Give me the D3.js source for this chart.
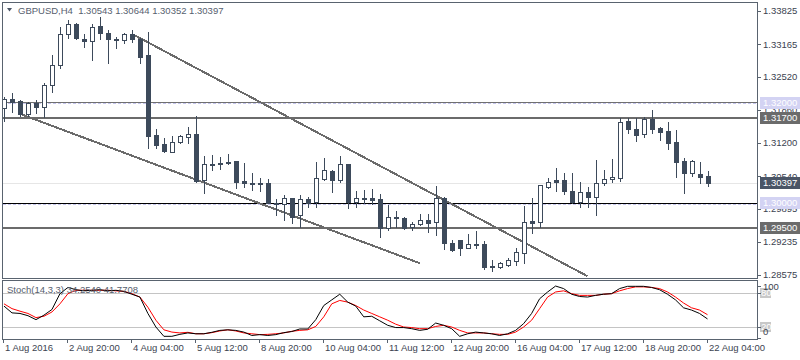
<!DOCTYPE html>
<html lang="en">
<head>
<meta charset="UTF-8" />
<title>GBPUSD,H4</title>
<script src="https://cdnjs.cloudflare.com/ajax/libs/d3/7.8.5/d3.min.js"></script>
<style>
  body { margin: 0; background: #fff; }
  svg { display: block; font-family: "Liberation Sans", Arial, sans-serif; font-size: 9.5px; }
  .frame { fill: none; stroke: #59636f; shape-rendering: crispEdges; }
  .axis-text { fill: #3b4350; }
  .hline { shape-rendering: crispEdges; }
</style>
</head>
<body>
<svg id="chart" width="800" height="360"></svg>
<script>
// GBPUSD H4 candles, 1 Aug - 22 Aug 2016
const open = [1.3190,1.3207,1.3203,1.3178,1.3199,1.3192,1.3235,1.3275,1.3337,1.3357,
  1.3327,1.3323,1.3353,1.3339,1.3327,1.3325,1.3337,1.3327,1.3295,1.3136,
  1.3118,1.3102,1.3122,1.3132,1.3138,1.3046,1.3078,1.3080,1.3082,1.3084,
  1.3044,1.3040,1.3040,1.3040,1.3001,1.2999,1.3011,1.2977,1.3009,1.3003,
  1.3048,1.3064,1.3046,1.3078,1.3003,1.3011,1.3011,1.3009,1.2951,1.2973,
  1.2971,1.2953,1.2959,1.2967,1.2963,1.3011,1.2921,1.2927,1.2911,1.2919,
  1.2919,1.2875,1.2873,1.2877,1.2885,1.2901,1.2965,1.2963,1.3032,1.3046,
  1.3046,1.3024,1.3003,1.3022,1.3013,1.3040,1.3048,1.3050,1.3164,1.3148,
  1.3138,1.3168,1.3150,1.3144,1.3122,1.3084,1.3060,1.3058,1.30543];
const high = [1.3211,1.3219,1.3205,1.3201,1.3205,1.3239,1.3295,1.3351,1.3365,1.3359,
  1.3337,1.3357,1.3371,1.3345,1.3331,1.3339,1.3345,1.3329,1.3341,1.3148,
  1.3130,1.3134,1.3136,1.3152,1.3174,1.3094,1.3096,1.3092,1.3098,1.3084,
  1.3080,1.3060,1.3050,1.3048,1.3009,1.3016,1.3011,1.3016,1.3013,1.3082,
  1.3090,1.3066,1.3094,1.3078,1.3024,1.3026,1.3028,1.3018,1.2997,1.2985,
  1.2973,1.2963,1.2979,1.2979,1.3034,1.3013,1.2927,1.2927,1.2939,1.2945,
  1.2925,1.2887,1.2883,1.2891,1.2911,1.2995,1.3011,1.3036,1.3050,1.3070,
  1.3060,1.3060,1.3042,1.3032,1.3086,1.3066,1.3088,1.3170,1.3170,1.3170,
  1.3172,1.3186,1.3152,1.3162,1.3146,1.3090,1.3086,1.3082,1.30644];
const low = [1.3164,1.3182,1.3174,1.3174,1.3180,1.3172,1.3221,1.3269,1.3329,1.3327,
  1.3311,1.3285,1.3327,1.3279,1.3309,1.3319,1.3321,1.3279,1.3110,1.3110,
  1.3102,1.3102,1.3120,1.3120,1.3042,1.3020,1.3066,1.3068,1.3078,1.3030,
  1.3032,1.3026,1.3024,1.3001,1.2977,1.2967,1.2961,1.2953,1.2993,1.2993,
  1.3046,1.3022,1.3042,1.2991,1.2993,1.3001,1.2999,1.2933,1.2947,1.2953,
  1.2949,1.2947,1.2957,1.2943,1.2937,1.2909,1.2905,1.2897,1.2911,1.2911,
  1.2869,1.2865,1.2871,1.2875,1.2877,1.2881,1.2941,1.2953,1.3030,1.3024,
  1.3018,1.3001,1.2993,1.2993,1.2977,1.3036,1.3042,1.3044,1.3140,1.3124,
  1.3132,1.3140,1.3126,1.3108,1.3052,1.3020,1.3054,1.3040,1.30352];
const close = [1.3207,1.3201,1.3178,1.3199,1.3192,1.3235,1.3275,1.3337,1.3357,1.3329,
  1.3323,1.3351,1.3339,1.3327,1.3325,1.3337,1.3327,1.3291,1.3134,1.3116,
  1.3104,1.3122,1.3134,1.3138,1.3044,1.3078,1.3076,1.3078,1.3080,1.3042,
  1.3040,1.3038,1.3038,1.3001,1.2999,1.3011,1.2973,1.3009,1.3001,1.3050,
  1.3066,1.3046,1.3078,1.3003,1.3011,1.3009,1.3007,1.2951,1.2973,1.2971,
  1.2951,1.2959,1.2967,1.2961,1.3011,1.2921,1.2907,1.2911,1.2919,1.2918,
  1.2873,1.2873,1.2881,1.2887,1.2903,1.2963,1.2961,1.3036,1.3042,1.3042,
  1.3024,1.3003,1.3022,1.3013,1.3040,1.3048,1.3052,1.3162,1.3148,1.3136,
  1.3168,1.3148,1.3142,1.3120,1.3082,1.3060,1.3084,1.3052,1.30397];

// Stochastic(14,3,3): main (black) and signal (red)
const stochK = [57,45,44,40,33,41,51,79,90,86,
  84,85,86,84,85,83,78,73,44,20,
  3.5,3.5,7,9.5,8,8,10.6,14,15,14,
  11,5,6.5,5,6.5,10,12,16.5,16.5,33,
  58,68,78,64,57,38,39,31,23,19,
  19,17,14,16,27,23,17,3.5,8,11,
  9.5,8,5,8,14,26,44,70,82,92.5,
  88,78,74,73,76,78,79,88,92,92,
  92,90,86,78,68,54,50,44,34.254];
const stochD = [61,52.5,48,44,36.6,39,46.6,61,79,85,
  85,85,85,85,84,83,79,73,55,32,
  15,11,9.5,10.6,8,8,10,13,15,13,
  9.5,8,6.5,7,8,9.5,12.4,14,15,21,
  38,61,67,64,58,50,44,38,32,25,
  20,19,17,17,21,23,20,14,9.5,9.5,
  9.5,8,7,7,11,20,32,52.5,73,82,
  84,79,76,76,76,78,79,84,88,91,
  91,90,88,82,73,62.5,54,50,41.7708];

const priceTicks = [1.33825,1.33165,1.32520,1.31860,1.31200,1.30540,1.29895,1.29235,1.28575];
const timeTickIdx = [0,8,16,24,32,40,48,56,64,72,80,88];
const timeTickLabels = ["1 Aug 2016","2 Aug 20:00","4 Aug 04:00","5 Aug 12:00","8 Aug 20:00",
  "10 Aug 04:00","11 Aug 12:00","12 Aug 20:00","16 Aug 04:00","17 Aug 12:00","18 Aug 20:00","22 Aug 04:00"];

// horizontal objects on the chart
const levelPrices = [1.3202, 1.3200, 1.3170, 1.30397, 1.30005, 1.2998, 1.2950];
const levelKinds  = ["gray", "dash", "thick", "bid", "black", "dash", "thick"];
// price labels shown on the right axis
const markPrices = [1.32000, 1.31700, 1.30397, 1.30000, 1.29500];
const markKinds  = ["dash", "thick", "bid", "dash", "thick"];

// trend lines: [startIndex, startPrice, endIndex, endPrice]
const trendA = [2, 1.3178, 52, 1.2881];
const trendB = [16, 1.3337, 73, 1.2855];

const stochLevels = [80, 20];

const W = 800;
const main = {left: 3, right: 757, top: 3, bottom: 278};
const sub = {top: 281, bottom: 339};
const candleColor = "#3d4a5b";
const n = close.length;

const svg = d3.select("#chart");

const x = d3.scaleLinear().domain([0, n - 1]).range([4, 707.5]);
const y = d3.scaleLinear().domain([1.28575, 1.33825]).range([275, 11]);
const ys = d3.scaleLinear().domain([0, 100]).range([338.3, 281.8]);

const defs = svg.append("defs");
defs.append("clipPath").attr("id", "clipMain").append("rect")
  .attr("x", main.left).attr("y", main.top)
  .attr("width", main.right - main.left).attr("height", main.bottom - main.top);
defs.append("clipPath").attr("id", "clipSub").append("rect")
  .attr("x", main.left).attr("y", sub.top)
  .attr("width", main.right - main.left).attr("height", sub.bottom - sub.top);

const pix = v => Math.round(v) + 0.5;

// ---- horizontal lines
const lineStyle = {
  gray:  {stroke: "#707070", width: 1, dash: null},
  dash:  {stroke: "#c6c6ee", width: 1, dash: "3,2"},
  thick: {stroke: "#6b6b6b", width: 2, dash: null},
  bid:   {stroke: "#e6e6e6", width: 1, dash: null},
  black: {stroke: "#000000", width: 1, dash: null}
};
const gMain = svg.append("g").attr("clip-path", "url(#clipMain)");
gMain.selectAll("line.hline")
  .data(levelPrices)
  .join("line")
  .attr("class", "hline")
  .attr("x1", main.left).attr("x2", main.right)
  .attr("y1", (d, i) => levelKinds[i] === "thick" ? Math.round(y(d)) : pix(y(d)))
  .attr("y2", (d, i) => levelKinds[i] === "thick" ? Math.round(y(d)) : pix(y(d)))
  .attr("stroke", (d, i) => lineStyle[levelKinds[i]].stroke)
  .attr("stroke-width", (d, i) => lineStyle[levelKinds[i]].width)
  .attr("stroke-dasharray", (d, i) => lineStyle[levelKinds[i]].dash);

// ---- trend lines
gMain.selectAll("line.trend")
  .data([trendA, trendB])
  .join("line")
  .attr("class", "trend")
  .attr("x1", d => x(d[0])).attr("y1", d => y(d[1]))
  .attr("x2", d => x(d[2])).attr("y2", d => y(d[3]))
  .attr("stroke", "#6b6b6b")
  .attr("stroke-width", 2)
  .attr("shape-rendering", "crispEdges");

// ---- candles
const candles = gMain.selectAll("g.candle")
  .data(d3.range(n))
  .join("g")
  .attr("class", "candle")
  .attr("shape-rendering", "crispEdges");

candles.append("line")
  .attr("x1", i => pix(x(i))).attr("x2", i => pix(x(i)))
  .attr("y1", i => Math.round(y(high[i])))
  .attr("y2", i => Math.round(y(low[i])) + 1)
  .attr("stroke", candleColor);

candles.append("rect")
  .attr("x", i => close[i] >= open[i] ? Math.round(x(i)) - 1.5 : Math.round(x(i)) - 2)
  .attr("width", i => close[i] >= open[i] ? 4 : 5)
  .attr("y", i => {
    const top = Math.round(y(Math.max(open[i], close[i])));
    return close[i] >= open[i] ? top + 0.5 : top;
  })
  .attr("height", i => {
    const top = Math.round(y(Math.max(open[i], close[i])));
    const bot = Math.round(y(Math.min(open[i], close[i])));
    const h = Math.max(bot - top, 1);
    return close[i] >= open[i] ? Math.max(h, 2) : h + 1;
  })
  .attr("fill", i => close[i] >= open[i] ? "#ffffff" : candleColor)
  .attr("stroke", i => close[i] >= open[i] ? candleColor : "none");

// ---- frames
svg.append("rect").attr("class", "frame")
  .attr("x", main.left - 0.5).attr("y", main.top - 0.5)
  .attr("width", main.right - main.left + 1).attr("height", main.bottom - main.top + 1);
svg.append("rect").attr("class", "frame")
  .attr("x", main.left - 0.5).attr("y", sub.top - 0.5)
  .attr("width", main.right - main.left + 1).attr("height", sub.bottom - sub.top + 1);

// ---- price axis
const gAxis = svg.append("g");
gAxis.selectAll("line.ptick")
  .data(priceTicks)
  .join("line")
  .attr("class", "hline")
  .attr("x1", main.right + 0.5).attr("x2", main.right + 4)
  .attr("y1", d => pix(y(d))).attr("y2", d => pix(y(d)))
  .attr("stroke", "#59636f");
gAxis.selectAll("text.ptick")
  .data(priceTicks)
  .join("text")
  .attr("class", "axis-text")
  .attr("x", 763).attr("y", d => y(d))
  .attr("dy", "0.35em")
  .text(d => d3.format(".5f")(d));

// highlighted price labels
const markFill = {dash: "#d3d3f3", thick: "#6b6b6b", bid: "#4a5566"};
const marks = gAxis.selectAll("g.mark")
  .data(markPrices)
  .join("g");
marks.append("rect")
  .attr("x", 760).attr("width", 40)
  .attr("y", d => Math.round(y(d)) - 6).attr("height", 12)
  .attr("fill", (d, i) => markFill[markKinds[i]]);
marks.append("text")
  .attr("x", 763).attr("y", d => Math.round(y(d)))
  .attr("dy", "0.35em")
  .attr("fill", "#ffffff")
  .text(d => d3.format(".5f")(d));

// ---- title
svg.append("path").attr("d", "M7,8 L12,8 L9.5,11.5 Z").attr("fill", "#4a5566");
svg.append("text")
  .attr("x", 18).attr("y", 11).attr("dy", "0.35em")
  .attr("fill", "#56606e")
  .style("white-space", "pre")
  .text("GBPUSD,H4  " + [open[n - 1], high[n - 1], low[n - 1], close[n - 1]].map(d3.format(".5f")).join(" "));

// ---- stochastic window
const gSub = svg.append("g").attr("clip-path", "url(#clipSub)");
gSub.selectAll("line.lvl")
  .data(stochLevels)
  .join("line")
  .attr("class", "hline")
  .attr("x1", main.left).attr("x2", main.right)
  .attr("y1", d => pix(ys(d))).attr("y2", d => pix(ys(d)))
  .attr("stroke", "#c4c4c4");

const stochLine = d3.line().x((d, i) => x(i)).y(d => ys(d));
gSub.append("path").datum(stochD)
  .attr("d", stochLine).attr("fill", "none")
  .attr("stroke", "#ff0000").attr("stroke-width", 1);
gSub.append("path").datum(stochK)
  .attr("d", stochLine).attr("fill", "none")
  .attr("stroke", "#000000").attr("stroke-width", 1);

svg.append("text")
  .attr("x", 7).attr("y", 290).attr("dy", "0.35em")
  .attr("fill", "#56606e")
  .text("Stoch(14,3,3) " + d3.format(".4f")(stochK[n - 1]) + " " + d3.format(".4f")(stochD[n - 1]));

// sub-window scale
const subLabels = gAxis.selectAll("g.slvl")
  .data(stochLevels)
  .join("g");
subLabels.append("rect")
  .attr("x", 760).attr("width", 11)
  .attr("y", d => Math.round(ys(d)) - 5).attr("height", 10)
  .attr("fill", "#c8c8c8");
subLabels.append("text")
  .attr("x", 761).attr("y", d => ys(d)).attr("dy", "0.35em")
  .attr("fill", "#ffffff")
  .text(d => d);
gAxis.append("text").attr("class", "axis-text")
  .attr("x", 763).attr("y", sub.top + 6).attr("dy", "0.35em").text("100");
gAxis.append("text").attr("class", "axis-text")
  .attr("x", 763).attr("y", sub.bottom - 7).attr("dy", "0.35em").text("0");
gAxis.selectAll("line.stick")
  .data([100, 80, 20, 0])
  .join("line")
  .attr("class", "hline")
  .attr("x1", main.right + 0.5).attr("x2", main.right + 4)
  .attr("y1", d => pix(Math.max(ys(d), sub.top + 5))).attr("y2", d => pix(Math.max(ys(d), sub.top + 5)))
  .attr("stroke", "#59636f");

// ---- time axis
const gTime = svg.append("g");
gTime.selectAll("line")
  .data(timeTickIdx)
  .join("line")
  .attr("class", "hline")
  .attr("x1", d => pix(x(d) - 1)).attr("x2", d => pix(x(d) - 1))
  .attr("y1", sub.bottom).attr("y2", sub.bottom + 4)
  .attr("stroke", "#59636f");
gTime.selectAll("text")
  .data(timeTickIdx)
  .join("text")
  .attr("class", "axis-text")
  .attr("x", d => Math.round(x(d)) + 1).attr("y", 348)
  .attr("dy", "0.35em")
  .text((d, i) => timeTickLabels[i]);
</script>
</body>
</html>
